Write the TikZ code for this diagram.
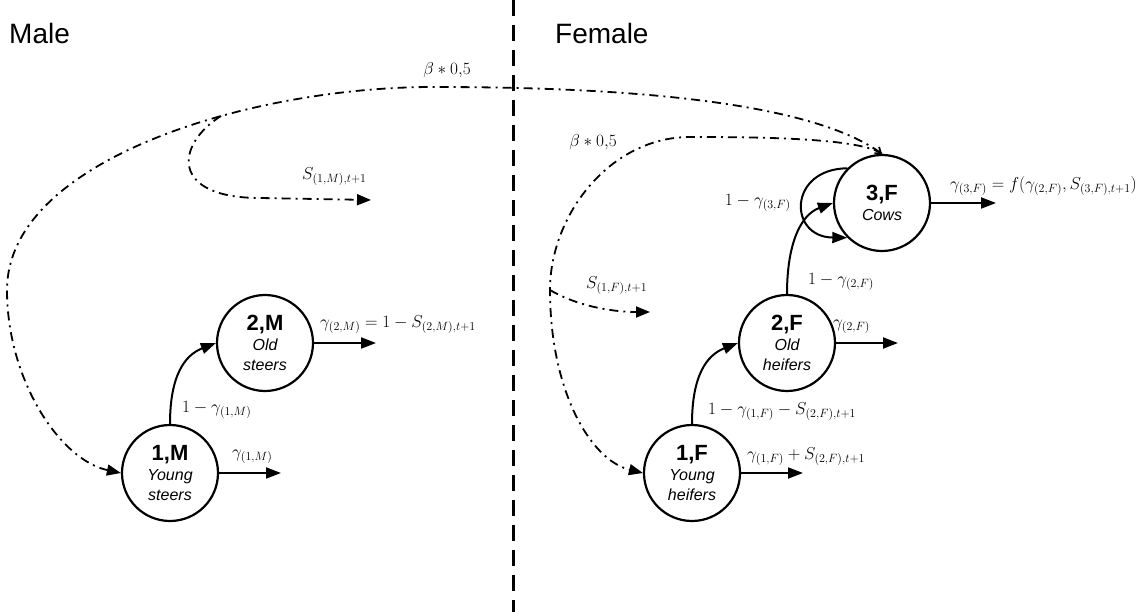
\documentclass[tikz,border=0pt]{standalone}
\usepackage{fontspec}
\setsansfont{Liberation Sans}
\usetikzlibrary{arrows.meta}
\begin{document}
\begin{tikzpicture}[x=1pt,y=-1pt,
  state/.style={circle, draw, line width=2.2pt, fill=white, minimum size=96pt,
    inner sep=0pt, align=center, font=\sffamily\itshape\fontsize{16}{20}\selectfont},
  flow/.style={line width=2pt, -{Triangle[length=15pt,width=11pt]}},
  dd/.style={line width=1.8pt, dash pattern=on 9pt off 5pt on 2pt off 5pt},
  ddtip/.style={-{Triangle[length=14pt,width=11pt]}},
  lab/.style={font=\fontsize{17}{19}\selectfont, inner sep=0pt},
  head/.style={font=\sffamily\fontsize{28}{30}\selectfont, inner sep=0pt, anchor=west},
  divider/.style={line width=3pt, dash pattern=on 16pt off 9pt}
]
\useasboundingbox (0,0) rectangle (1146,612);

% headings and divider
\node[head] (male) at (9,33) {Male};
\node[head] (female) at (555,33) {Female};
\coordinate (dtop) at (513,0);
\coordinate (dbot) at (513,612);
\draw[divider] (dtop) -- (dbot);

% states
\node[state] (1M) at (170,473) {{\upshape\bfseries\fontsize{22}{24}\selectfont 1,M}\\Young\\steers};
\node[state] (2M) at (265,343) {{\upshape\bfseries\fontsize{22}{24}\selectfont 2,M}\\Old\\steers};
\node[state] (1F) at (692,473) {{\upshape\bfseries\fontsize{22}{24}\selectfont 1,F}\\Young\\heifers};
\node[state] (2F) at (787,343) {{\upshape\bfseries\fontsize{22}{24}\selectfont 2,F}\\Old\\heifers};
\node[state] (3F) at (882,203) {{\upshape\bfseries\fontsize{22}{24}\selectfont 3,F}\\Cows};

% free ends of outflows
\coordinate (o1M) at (281,473);
\coordinate (o2M) at (376,343);
\coordinate (o1F) at (803,473);
\coordinate (o2F) at (898,343);
\coordinate (o3F) at (996,203);

% transitions
\draw[flow] (1M.north) .. controls (170,375) and (185,355) .. (2M.west);
\draw[flow] (1F.north) .. controls (692,375) and (707,355) .. (2F.west);
\draw[flow] (2F.north) .. controls (787,245) and (800,215) .. (3F.west);
\draw[flow] (3F.135) .. controls (788,169) and (788,237) .. (3F.225);

\draw[flow] (1M.east) -- (o1M);
\draw[flow] (2M.east) -- (o2M);
\draw[flow] (1F.east) -- (o1F);
\draw[flow] (2F.east) -- (o2F);
\draw[flow] (3F.east) -- (o3F);

% births (dash-dot)
\coordinate (bm) at (221,116);
\coordinate (bf) at (550,290);
\coordinate (sm) at (371,200);
\coordinate (sf) at (650,312);
\draw[dd, {Straight Barb[length=5pt,width=8pt]}-{Triangle[length=14pt,width=11pt]}]
  (3F.north) .. controls (800,95) and (580,87) .. (433,87)
  .. controls (250,87) and (7,160) .. (7,290)
  .. controls (7,380) and (60,460) .. (1M.west);
\draw[dd, ddtip] (3F.north) .. controls (860,138) and (760,137) .. (690,137)
  .. controls (610,137) and (550,215) .. (bf)
  .. controls (550,390) and (590,460) .. (1F.west);
\draw[dd, ddtip] (bm) .. controls (175,145) and (170,198) .. (260,198) -- (sm);
\draw[dd, ddtip] (bf) .. controls (575,305) and (610,312) .. (sf);

% labels
\node[lab] (lb1) at (447,70) {$\beta * 0{,}5$};
\node[lab] (lb2) at (593,142) {$\beta * 0{,}5$};
\node[lab, anchor=west] (lsm) at (302,177) {$S_{(1,M),t+1}$};
\node[lab, anchor=west] (lsf) at (586,286) {$S_{(1,F),t+1}$};
\node[lab, anchor=west] (lt1M) at (182,410) {$1-\gamma_{(1,M)}$};
\node[lab, anchor=west] (lo1M) at (232,457) {$\gamma_{(1,M)}$};
\node[lab, anchor=west] (lo2M) at (320,325) {$\gamma_{(2,M)} = 1 - S_{(2,M),t+1}$};
\node[lab, anchor=west] (lt1F) at (708,412) {$1-\gamma_{(1,F)} - S_{(2,F),t+1}$};
\node[lab, anchor=west] (lo1F) at (747,457) {$\gamma_{(1,F)} + S_{(2,F),t+1}$};
\node[lab, anchor=west] (lo2F) at (833,327) {$\gamma_{(2,F)}$};
\node[lab, anchor=west] (lt2F) at (808,282) {$1-\gamma_{(2,F)}$};
\node[lab, anchor=east] (lt3F) at (791,203) {$1-\gamma_{(3,F)}$};
\node[lab, anchor=west] (lo3F) at (950,186) {$\gamma_{(3,F)} = f(\gamma_{(2,F)},S_{(3,F),t+1})$};
\end{tikzpicture}
\end{document}
